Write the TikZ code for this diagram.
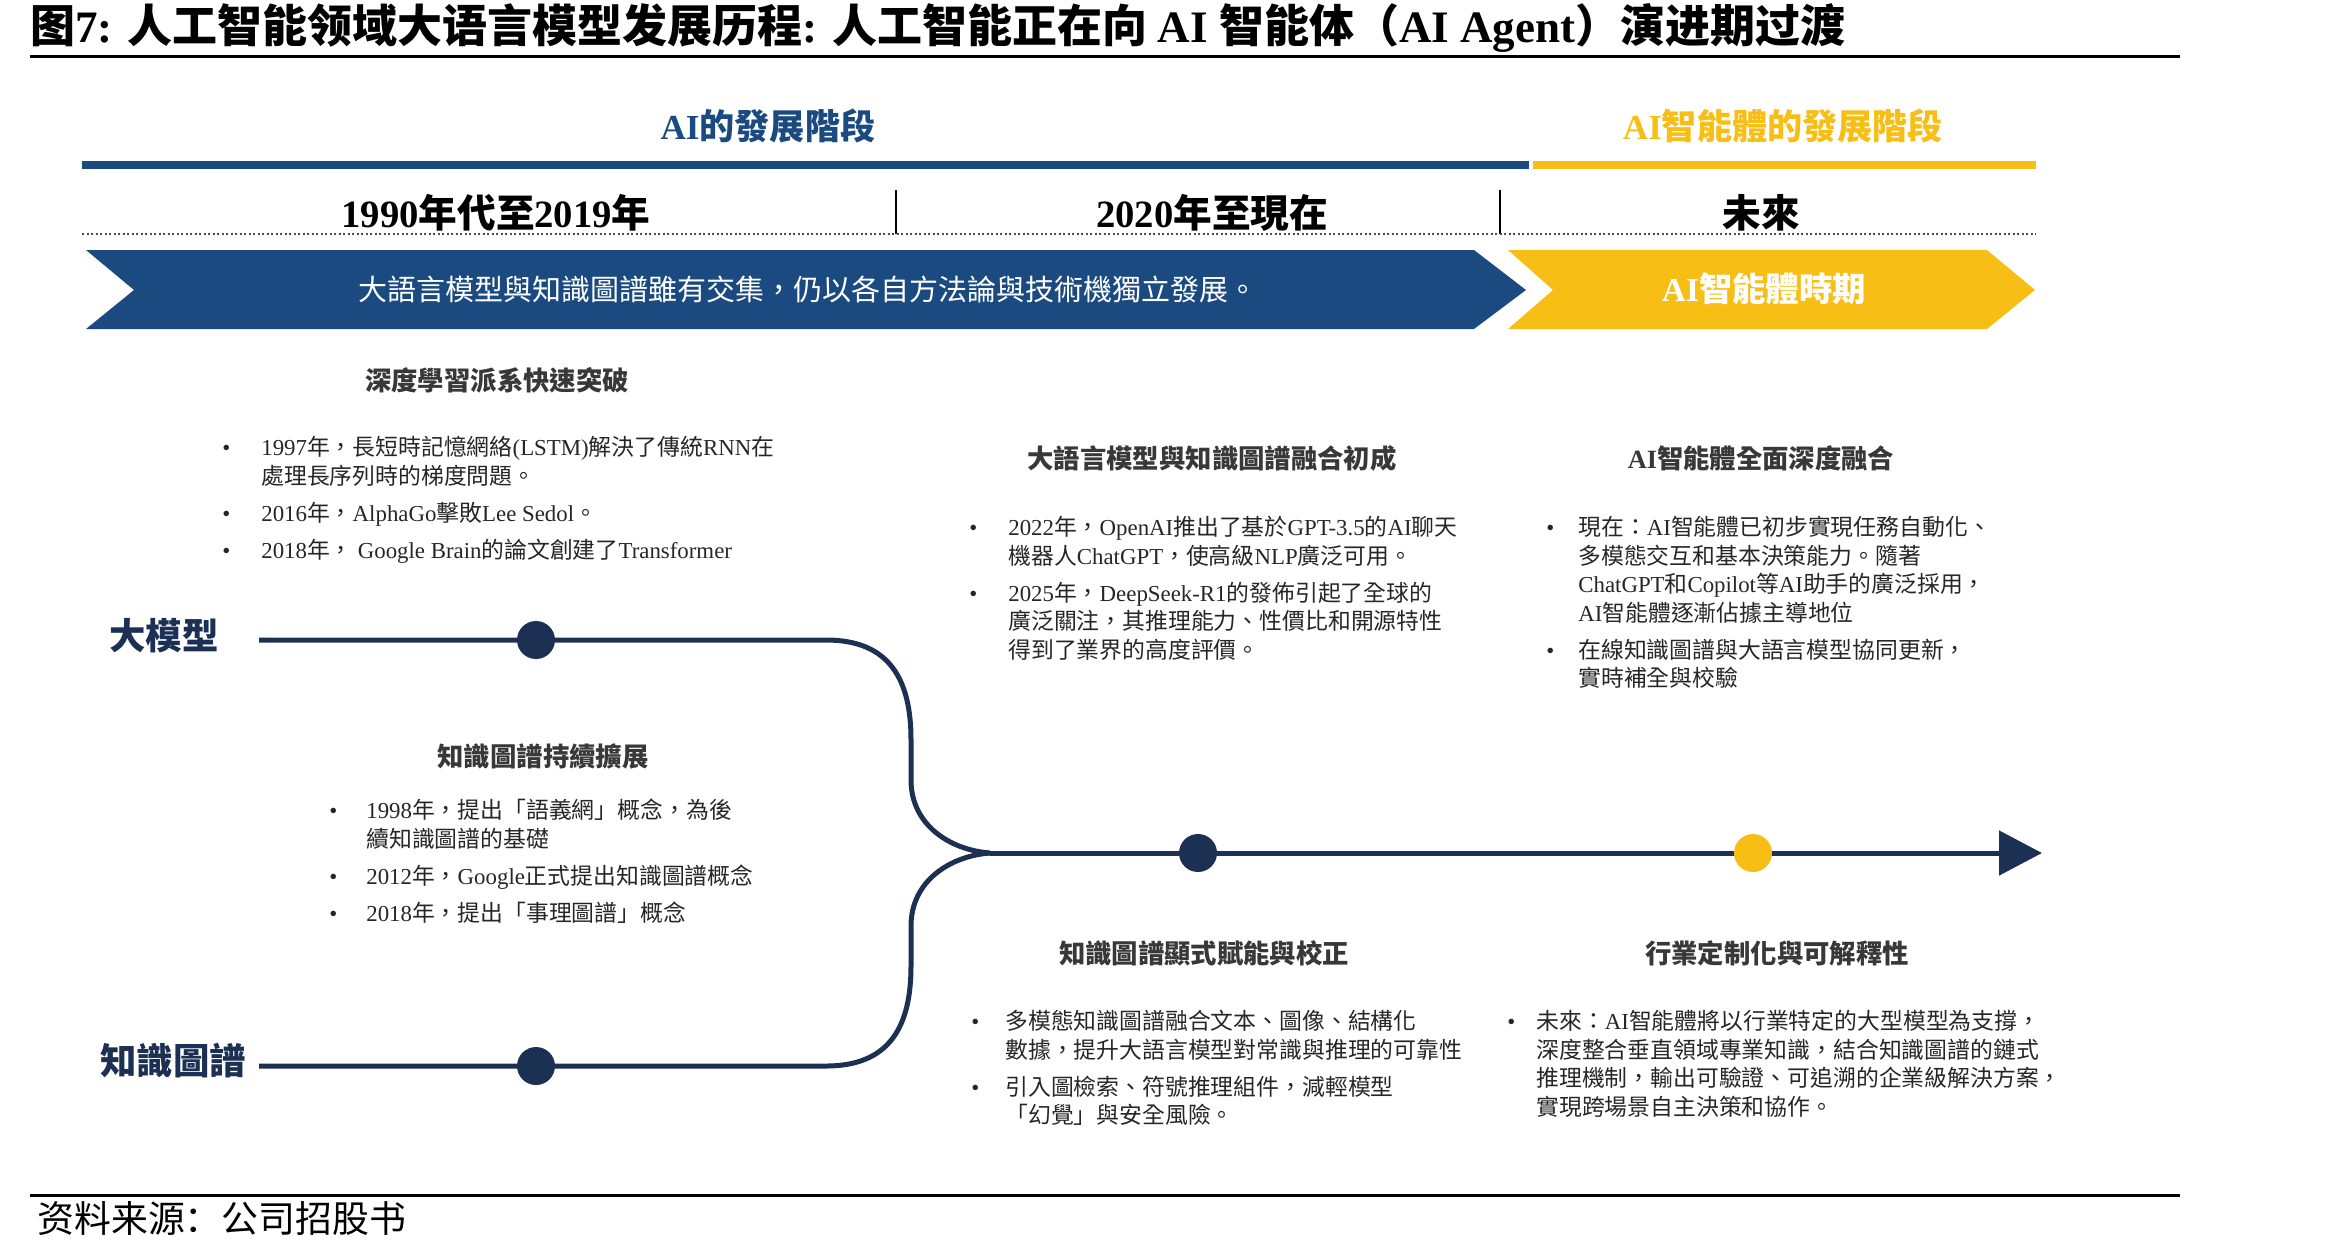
\documentclass[tikz,border=0pt]{standalone}
\usepackage{fontspec}
\setmainfont{Liberation Serif}
\newfontfamily\cjktc{Noto Sans CJK TC}
\newfontfamily\cjksc{Noto Sans CJK SC}
\usetikzlibrary{arrows.meta,positioning}

% latin in serif, han characters in Noto
\newXeTeXintercharclass\cjkcls
\newcount\cjkcnt
\cjkcnt="3000 \loop\XeTeXcharclass\cjkcnt=\cjkcls \advance\cjkcnt 1 \ifnum\cjkcnt<"3040 \repeat
\cjkcnt="4E00 \loop\XeTeXcharclass\cjkcnt=\cjkcls \advance\cjkcnt 1 \ifnum\cjkcnt<"A000 \repeat
\cjkcnt="FF00 \loop\XeTeXcharclass\cjkcnt=\cjkcls \advance\cjkcnt 1 \ifnum\cjkcnt<"FFF0 \repeat
\newcommand\cjkcur{\cjktc}
\XeTeXinterchartoks 0 \cjkcls = {\cjkcur}
\XeTeXinterchartoks 4095 \cjkcls = {\cjkcur}
\XeTeXinterchartoks \cjkcls 0 = {\rmfamily}
\XeTeXinterchartoks 4095 0 = {\rmfamily}
\AtBeginDocument{\XeTeXinterchartokenstate=1}

\definecolor{hblue}{RGB}{26,74,128}
\definecolor{navy}{RGB}{28,48,84}
\definecolor{gold}{RGB}{247,190,22}
\newcommand\itm[1][6.2mm]{\leavevmode\llap{•\hspace{#1}}}

\begin{document}
\begin{tikzpicture}[x=0.2mm,y=-0.2mm,
  tline/.style={line width=1mm,draw=navy},
  tdot/.style={circle,minimum size=7.6mm,inner sep=0pt},
  hdr/.style={font=\fontsize{20}{24}\selectfont\bfseries},
  period/.style={font=\fontsize{22}{26}\selectfont\bfseries},
  colhead/.style={font=\fontsize{15}{18}\selectfont\bfseries,text=black!78},
  body/.style={font=\fontsize{13}{16.2}\selectfont,text=black!85,align=left,anchor=north west,inner sep=0pt},
  lbl/.style={font=\fontsize{20.7}{24}\selectfont\bfseries,text=navy}]
\useasboundingbox (0,0) rectangle (2334,1251);
%title
\node[anchor=west,inner sep=0pt,font=\fontsize{25.6}{30}\selectfont\bfseries] (title) at (30,28)
  {\def\cjkcur{\cjksc}图7: 人工智能领域大语言模型发展历程: 人工智能正在向 AI 智能体（AI Agent）演进期过渡};
\draw[line width=0.6mm] (30,56) -- (2180,56);
\draw[line width=0.6mm] (30,1195) -- (2180,1195);
\node[anchor=west,inner sep=0pt,font=\fontsize{21}{25}\selectfont] (src) at (37,1218)
  {\def\cjkcur{\cjksc}资料来源：公司招股书};
%stages
\node[hdr,text=hblue] (hdrai) at (768,126) {AI的發展階段};
\node[hdr,text=gold] (hdragent) at (1783,126) {AI智能體的發展階段};
\draw[line width=1.6mm,hblue] (82,165) -- (1529,165);
\draw[line width=1.6mm,gold] (1533,165) -- (2036,165);
\node[period] (p1) at (496,213) {1990年代至2019年};
\node[period] (p2) at (1212,213) {2020年至現在};
\node[period] (p3) at (1761,213) {未來};
\draw[line width=0.3mm] (896,190) -- (896,234);
\draw[line width=0.3mm] (1500,190) -- (1500,234);
\draw[line width=0.45mm,black!70,dash pattern=on 0.45mm off 0.45mm] (82,234) -- (2036,234);
%banners
\fill[hblue] (86,250) -- (1474,250) -- (1526,290) -- (1474,329) -- (86,329) -- (134,290) -- cycle;
\fill[gold] (1508,250) -- (1987,250) -- (2035,290) -- (1987,329) -- (1508,329) -- (1553,290) -- cycle;
\node[font=\fontsize{16.5}{20}\selectfont,text=white] (bantxt) at (808,289)
  {大語言模型與知識圖譜雖有交集，仍以各自方法論與技術機獨立發展。};
\node[font=\fontsize{19}{22}\selectfont\bfseries,text=white] (agenttxt) at (1764,289) {AI智能體時期};
%timeline
\node[lbl] (llmlbl) at (164,636) {大模型};
\node[lbl] (kglbl) at (173,1061) {知識圖譜};
\coordinate (llmstart) at (259,640);
\coordinate (kgstart) at (259,1066);
\coordinate (join) at (990,853);
\coordinate (tlend) at (2042,853);
\draw[tline] (llmstart) -- (826,640) .. controls (890,640) and (911,680) .. (911,740)
  -- (911,780) .. controls (911,825) and (950,850) .. (join);
\draw[tline] (kgstart) -- (826,1066) .. controls (890,1066) and (911,1026) .. (911,966)
  -- (911,926) .. controls (911,881) and (950,856) .. (join);
\draw[tline,-{Triangle[length=8.6mm,width=8.8mm]}] (join) -- (tlend);
\node[tdot,fill=navy] (llmdot) at (536,640) {};
\node[tdot,fill=navy] (kgdot) at (536,1066) {};
\node[tdot,fill=navy] (nowdot) at (1198,853) {};
\node[tdot,fill=gold] (futdot) at (1753,853) {};
%upper texts
\node[colhead] (dlhead) at (497,380) {深度學習派系快速突破};
\node[body] (dl) at (261,436) {\itm 1997年，長短時記憶網絡(LSTM)解決了傳統RNN在\\處理長序列時的梯度問題。\\[5pt]
  \itm 2016年，AlphaGo擊敗Lee Sedol。\\[5pt]
  \itm 2018年， Google Brain的論文創建了Transformer};
\node[colhead] (fusehead) at (1212,458) {大語言模型與知識圖譜融合初成};
\node[body] (fuse) at (1008,516) {\itm 2022年，OpenAI推出了基於GPT-3.5的AI聊天\\機器人ChatGPT，使高級NLP廣泛可用。\\[5pt]
  \itm 2025年，DeepSeek-R1的發佈引起了全球的\\廣泛關注，其推理能力、性價比和開源特性\\得到了業界的高度評價。};
\node[colhead] (agenthead) at (1761,458) {AI智能體全面深度融合};
\node[body] (agent) at (1578,516) {\itm[4.8mm]現在：AI智能體已初步實現任務自動化、\\多模態交互和基本決策能力。隨著\\ChatGPT和Copilot等AI助手的廣泛採用，\\AI智能體逐漸佔據主導地位\\[5pt]
  \itm[4.8mm]在線知識圖譜與大語言模型協同更新，\\實時補全與校驗};
%lower texts
\node[colhead] (kghead) at (543,756) {知識圖譜持續擴展};
\node[body] (kg) at (366,799) {\itm[5.8mm]1998年，提出「語義網」概念，為後\\續知識圖譜的基礎\\[5pt]
  \itm[5.8mm]2012年，Google正式提出知識圖譜概念\\[5pt]
  \itm[5.8mm]2018年，提出「事理圖譜」概念};
\node[colhead] (kgehead) at (1204,953) {知識圖譜顯式賦能與校正};
\node[body] (kge) at (1005,1010) {\itm[5.2mm]多模態知識圖譜融合文本、圖像、結構化\\數據，提升大語言模型對常識與推理的可靠性\\[5pt]
  \itm[5.2mm]引入圖檢索、符號推理組件，減輕模型\\「幻覺」與安全風險。};
\node[colhead] (indhead) at (1777,953) {行業定制化與可解釋性};
\node[body] (ind) at (1536,1010) {\itm[4.2mm]未來：AI智能體將以行業特定的大型模型為支撐，\\深度整合垂直領域專業知識，結合知識圖譜的鏈式\\推理機制，輸出可驗證、可追溯的企業級解決方案，\\實現跨場景自主決策和協作。};
\end{tikzpicture}
\end{document}
